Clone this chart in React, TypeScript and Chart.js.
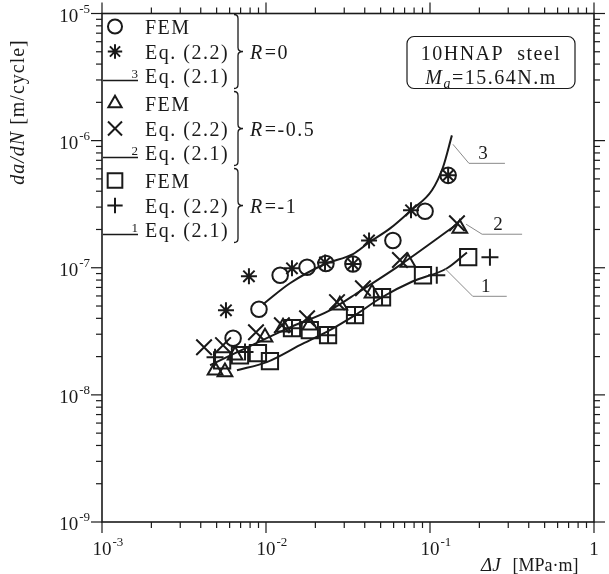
import React, { useEffect, useRef } from 'react';
import { Chart, registerables } from 'chart.js';
import { drawPoint } from 'chart.js/helpers';

Chart.register(...registerables);

// ---- axes ----
const xMin = 1e-3;
const xMax = 1;
const yMin = 1e-9;
const yMax = 1e-5;
const xTickValues = [1e-3, 1e-2, 1e-1, 1];
const xTickBase = ['10', '10', '10', '1'];
const xTickExp = ['-3', '-2', '-1', ''];
const yTickValues = [1e-9, 1e-8, 1e-7, 1e-6, 1e-5];
const yTickBase = ['10', '10', '10', '10', '10'];
const yTickExp = ['-9', '-8', '-7', '-6', '-5'];

// ---- R = 0 ----
const femR0X = [0.0063, 0.00906, 0.0122, 0.0178, 0.0232, 0.0339, 0.0594, 0.0933, 0.129];
const femR0Y = [2.79e-8, 4.72e-8, 8.73e-8, 1.01e-7, 1.08e-7, 1.07e-7, 1.64e-7, 2.78e-7, 5.33e-7];
const eq22R0X = [0.0057, 0.00787, 0.0144, 0.0229, 0.0339, 0.0425, 0.0766, 0.129];
const eq22R0Y = [4.63e-8, 8.57e-8, 9.9e-8, 1.1e-7, 1.07e-7, 1.64e-7, 2.83e-7, 5.33e-7];
const eq21R0X = [0.00959, 0.014, 0.0229, 0.0339, 0.0425, 0.0571, 0.0766, 0.1028, 0.12, 0.136];
const eq21R0Y = [5.16e-8, 7.55e-8, 1.07e-7, 1.28e-7, 1.58e-7, 2.04e-7, 2.83e-7, 4.07e-7, 6.17e-7, 1.1e-6];

// ---- R = -0.5 ----
const femR05X = [0.00489, 0.00562, 0.00648, 0.00986, 0.0127, 0.0185, 0.0282, 0.0443, 0.0734, 0.152];
const femR05Y = [1.56e-8, 1.51e-8, 2.05e-8, 2.84e-8, 3.4e-8, 3.53e-8, 5.07e-8, 6.31e-8, 1.1e-7, 2.04e-7];
const eq22R05X = [0.00419, 0.00547, 0.00869, 0.0125, 0.0178, 0.0271, 0.039, 0.0656, 0.146];
const eq22R05Y = [2.37e-8, 2.46e-8, 3.11e-8, 3.53e-8, 4.01e-8, 5.36e-8, 6.9e-8, 1.15e-7, 2.24e-7];
const eq21R05X = [0.00456, 0.014, 0.0245, 0.0374, 0.0656, 0.146];
const eq21R05Y = [1.71e-8, 3.4e-8, 4.63e-8, 6.53e-8, 1.05e-7, 2.2e-7];

// ---- R = -1 ----
const femR1X = [0.0054, 0.00694, 0.00893, 0.01057, 0.0144, 0.0185, 0.0239, 0.0349, 0.051, 0.0906, 0.171];
const femR1Y = [1.87e-8, 2.05e-8, 2.13e-8, 1.84e-8, 3.35e-8, 3.23e-8, 2.95e-8, 4.24e-8, 5.86e-8, 8.73e-8, 1.21e-7];
const eq22R1X = [0.00489, 0.00745, 0.0144, 0.0239, 0.0349, 0.051, 0.11, 0.232];
const eq22R1Y = [1.98e-8, 2.17e-8, 3.35e-8, 2.95e-8, 4.24e-8, 5.86e-8, 8.73e-8, 1.21e-7];
const eq21R1X = [0.00665, 0.0101, 0.0161, 0.0245, 0.0349, 0.0509, 0.0787, 0.127, 0.168];
const eq21R1Y = [1.56e-8, 1.81e-8, 2.46e-8, 3.23e-8, 4.24e-8, 5.86e-8, 7.83e-8, 9.91e-8, 1.32e-7];

// ---- curve number callouts (anchor on curve) ----
const calloutText = ['3', '2', '1'];
const calloutX = [0.138, 0.166, 0.123];
const calloutY = [9.35e-7, 2.2e-7, 9.9e-8];

// ---- legend ----
const groupLabels = ['0', '-0.5', '-1'];
const femStyles = ['circle', 'triangle', 'rect'];
const eqStyles = ['star', 'crossRot', 'cross'];
const lineNums = ['3', '2', '1'];

const SERIF = '"Liberation Serif", "Times New Roman", "DejaVu Serif", serif';
const INK = '#1a1a1a';
const CLEAR = 'rgba(0,0,0,0)';

const zip = (xs: number[], ys: number[]) => xs.map((x, i) => ({ x, y: ys[i] }));

const radii: Record<string, number> = { circle: 7.8, triangle: 8.5, rect: 11.5, star: 8, crossRot: 11, cross: 8.5 };

function markerSet(xs: number[], ys: number[], style: string) {
  return {
    type: 'scatter' as const,
    data: zip(xs, ys),
    showLine: false,
    pointStyle: style,
    pointRadius: radii[style],
    pointBorderWidth: 2,
    pointBorderColor: INK,
    pointBackgroundColor: CLEAR,
  };
}

function curveSet(xs: number[], ys: number[]) {
  return {
    type: 'line' as const,
    data: zip(xs, ys),
    showLine: true,
    borderColor: INK,
    borderWidth: 2,
    pointRadius: 0,
    cubicInterpolationMode: 'monotone' as const,
    fill: false,
  };
}

function logTicks(min: number, max: number) {
  const out: { value: number; major: boolean }[] = [];
  const e0 = Math.round(Math.log10(min));
  const e1 = Math.round(Math.log10(max));
  for (let e = e0; e < e1; e++) {
    for (let s = 1; s <= 9; s++) out.push({ value: s * Math.pow(10, e), major: s === 1 });
  }
  out.push({ value: max, major: true });
  return out;
}

const decor = {
  id: 'decor',
  afterDraw(chart: any) {
    const { ctx, chartArea: a } = chart;
    const xs = chart.scales.x;
    const ys = chart.scales.y;
    ctx.save();
    ctx.strokeStyle = INK;
    ctx.fillStyle = INK;
    const seg = (x1: number, y1: number, x2: number, y2: number) => {
      ctx.beginPath();
      ctx.moveTo(x1, y1);
      ctx.lineTo(x2, y2);
      ctx.stroke();
    };
    // frame
    ctx.lineWidth = 1.6;
    ctx.strokeRect(a.left, a.top, a.right - a.left, a.bottom - a.top);
    // ticks (outward, all four sides)
    ctx.lineWidth = 1.2;
    for (const t of xs.ticks) {
      const p = xs.getPixelForValue(t.value);
      const L = t.major ? 11 : 6;
      seg(p, a.bottom, p, a.bottom + L);
      seg(p, a.top, p, a.top - L);
    }
    for (const t of ys.ticks) {
      const p = ys.getPixelForValue(t.value);
      const L = t.major ? 11 : 6;
      seg(a.left - L, p, a.left, p);
      seg(a.right, p, a.right + L, p);
    }
    // tick labels
    ctx.textBaseline = 'alphabetic';
    xTickValues.forEach((v, i) => {
      const p = xs.getPixelForValue(v);
      ctx.font = `19px ${SERIF}`;
      ctx.textAlign = 'center';
      ctx.fillText(xTickBase[i], p, a.bottom + 33);
      const bw = ctx.measureText(xTickBase[i]).width;
      if (xTickExp[i]) {
        ctx.font = `13px ${SERIF}`;
        ctx.textAlign = 'left';
        ctx.fillText(xTickExp[i], p + bw / 2 + 1, a.bottom + 24);
      }
    });
    yTickValues.forEach((v, i) => {
      const p = ys.getPixelForValue(v);
      ctx.font = `13px ${SERIF}`;
      ctx.textAlign = 'right';
      const ex = a.left - 12;
      ctx.fillText(yTickExp[i], ex, p - 1);
      const ew = ctx.measureText(yTickExp[i]).width;
      ctx.font = `19px ${SERIF}`;
      ctx.fillText(yTickBase[i], ex - ew - 1, p + 8);
    });

    // axis titles
    ctx.textAlign = 'left';
    // x title
    ctx.font = `italic 19px ${SERIF}`;
    let tx = a.right - 113;
    ctx.fillText('ΔJ', tx, 571);
    tx += ctx.measureText('ΔJ').width + 12;
    ctx.font = `18px ${SERIF}`;
    ctx.fillText('[MPa·m]', tx, 571);
    // y title
    (ctx as any).letterSpacing = '1px';
    ctx.save();
    ctx.translate(24, 112);
    ctx.rotate(-Math.PI / 2);
    ctx.font = `italic 20px ${SERIF}`;
    const w1 = ctx.measureText('da/dN').width;
    ctx.font = `20px ${SERIF}`;
    const w2 = ctx.measureText(' [m/cycle]').width;
    const sx = -(w1 + w2) / 2;
    ctx.font = `italic 20px ${SERIF}`;
    ctx.fillText('da/dN', sx, 0);
    ctx.font = `20px ${SERIF}`;
    ctx.fillText(' [m/cycle]', sx + w1, 0);
    ctx.restore();

    // legend
    const rows = [26, 51, 75, 103, 128, 152, 180, 205, 229];
    const symX = a.left + 13;
    const textX = a.left + 43;
    for (let g = 0; g < 3; g++) {
      const r0 = a.top + rows[g * 3] - 13;
      const r1 = a.top + rows[g * 3 + 1] - 13;
      const r2 = a.top + rows[g * 3 + 2] - 13;
      ctx.lineWidth = 2;
      ctx.strokeStyle = INK;
      ctx.fillStyle = CLEAR;
      drawPoint(ctx, { pointStyle: femStyles[g], radius: radii[femStyles[g]] * 0.9, borderWidth: 2, rotation: 0 } as any, symX, r0);
      drawPoint(ctx, { pointStyle: eqStyles[g], radius: radii[eqStyles[g]] * 0.9, borderWidth: 2, rotation: 0 } as any, symX, r1);
      ctx.fillStyle = INK;
      ctx.lineWidth = 1.6;
      seg(a.left + 1, r2 + 5, a.left + 36, r2 + 5);
      (ctx as any).letterSpacing = '0px';
      ctx.font = `13px ${SERIF}`;
      ctx.textAlign = 'right';
      ctx.fillText(lineNums[g], a.left + 36, r2 + 2);
      (ctx as any).letterSpacing = '1.5px';
      ctx.textAlign = 'left';
      ctx.font = `20px ${SERIF}`;
      ctx.fillText('FEM', textX, r0 + 7);
      ctx.fillText('Eq. (2.2)', textX, r1 + 7);
      ctx.fillText('Eq. (2.1)', textX, r2 + 7);
      // bracket
      const bx = a.left + 136;
      const top = r0 - 12;
      const bot = r2 + 13;
      ctx.lineWidth = 1.3;
      ctx.beginPath();
      ctx.moveTo(bx - 4, top);
      ctx.quadraticCurveTo(bx, top, bx, top + 4);
      ctx.lineTo(bx, r1 - 4);
      ctx.quadraticCurveTo(bx, r1, bx + 5, r1);
      ctx.quadraticCurveTo(bx, r1, bx, r1 + 4);
      ctx.lineTo(bx, bot - 4);
      ctx.quadraticCurveTo(bx, bot, bx - 4, bot);
      ctx.stroke();
      // R label
      ctx.font = `italic 20px ${SERIF}`;
      let rx = a.left + 148;
      ctx.fillText('R', rx, r1 + 7);
      rx += ctx.measureText('R').width + 1;
      ctx.font = `20px ${SERIF}`;
      ctx.fillText('=' + groupLabels[g], rx, r1 + 7);
    }

    // info box
    const bw = 168;
    const bh = 52;
    const bxl = a.right - 187;
    const byt = a.top + 23;
    ctx.lineWidth = 1.2;
    ctx.beginPath();
    (ctx as any).roundRect(bxl, byt, bw, bh, 7);
    ctx.stroke();
    ctx.textAlign = 'center';
    (ctx as any).letterSpacing = '1.5px';
    ctx.font = `20px ${SERIF}`;
    ctx.fillText('10HNAP  steel', bxl + bw / 2, byt + 23);
    // M_a = 15.64N.m
    ctx.textAlign = 'left';
    ctx.font = `italic 20px ${SERIF}`;
    const mW = ctx.measureText('M').width;
    ctx.font = `italic 14px ${SERIF}`;
    const aW = ctx.measureText('a').width;
    ctx.font = `20px ${SERIF}`;
    const restW = ctx.measureText('=15.64N.m').width;
    let mx = bxl + bw / 2 - (mW + aW + restW) / 2;
    ctx.font = `italic 20px ${SERIF}`;
    ctx.fillText('M', mx, byt + 47);
    mx += mW;
    ctx.font = `italic 14px ${SERIF}`;
    ctx.fillText('a', mx, byt + 51);
    mx += aW;
    ctx.font = `20px ${SERIF}`;
    ctx.fillText('=15.64N.m', mx, byt + 47);

    // curve callouts
    (ctx as any).letterSpacing = '0px';
    const elbows = [[16, 19, 52], [16, 10, 56], [28, 28, 62]];
    ctx.strokeStyle = '#8a8a8a';
    ctx.lineWidth = 1;
    calloutText.forEach((s, i) => {
      const px = xs.getPixelForValue(calloutX[i]);
      const py = ys.getPixelForValue(calloutY[i]);
      const [dx, dy, len] = elbows[i];
      ctx.beginPath();
      ctx.moveTo(px, py);
      ctx.lineTo(px + dx, py + dy);
      ctx.lineTo(px + len, py + dy);
      ctx.stroke();
      ctx.font = `19px ${SERIF}`;
      ctx.textAlign = 'center';
      ctx.fillStyle = INK;
      ctx.fillText(s, px + dx + (len - dx) / 2 - 4, py + dy - 4);
    });
    ctx.restore();
  },
};

export default function App() {
  const ref = useRef<HTMLCanvasElement>(null);
  useEffect(() => {
    if (!ref.current) return;
    const chart = new Chart(ref.current, {
      type: 'scatter',
      data: {
        datasets: [
          curveSet(eq21R0X, eq21R0Y),
          curveSet(eq21R05X, eq21R05Y),
          curveSet(eq21R1X, eq21R1Y),
          markerSet(femR0X, femR0Y, femStyles[0]),
          markerSet(eq22R0X, eq22R0Y, eqStyles[0]),
          markerSet(femR05X, femR05Y, femStyles[1]),
          markerSet(eq22R05X, eq22R05Y, eqStyles[1]),
          markerSet(femR1X, femR1Y, femStyles[2]),
          markerSet(eq22R1X, eq22R1Y, eqStyles[2]),
        ] as any,
      },
      options: {
        responsive: false,
        animation: false,
        layout: { padding: { top: 13, right: 15, left: 0, bottom: 0 } },
        plugins: { legend: { display: false }, tooltip: { enabled: false } },
        scales: {
          x: {
            type: 'logarithmic',
            position: 'bottom',
            min: xMin,
            max: xMax,
            grid: { display: false },
            border: { display: false },
            ticks: { display: false },
            afterBuildTicks: (s: any) => { s.ticks = logTicks(xMin, xMax); },
            afterFit: (s: any) => { s.height = 52; },
          },
          y: {
            type: 'logarithmic',
            position: 'left',
            min: yMin,
            max: yMax,
            grid: { display: false },
            border: { display: false },
            ticks: { display: false },
            afterBuildTicks: (s: any) => { s.ticks = logTicks(yMin, yMax); },
            afterFit: (s: any) => { s.width = 102; },
          },
        },
      } as any,
      plugins: [decor],
    });
    return () => chart.destroy();
  }, []);
  return (
    <div style={{ position: 'fixed', left: 0, top: 0, width: 609, height: 574, background: '#fff' }}>
      <canvas ref={ref} width={609} height={574} style={{ width: 609, height: 574, display: 'block' }} />
    </div>
  );
}
